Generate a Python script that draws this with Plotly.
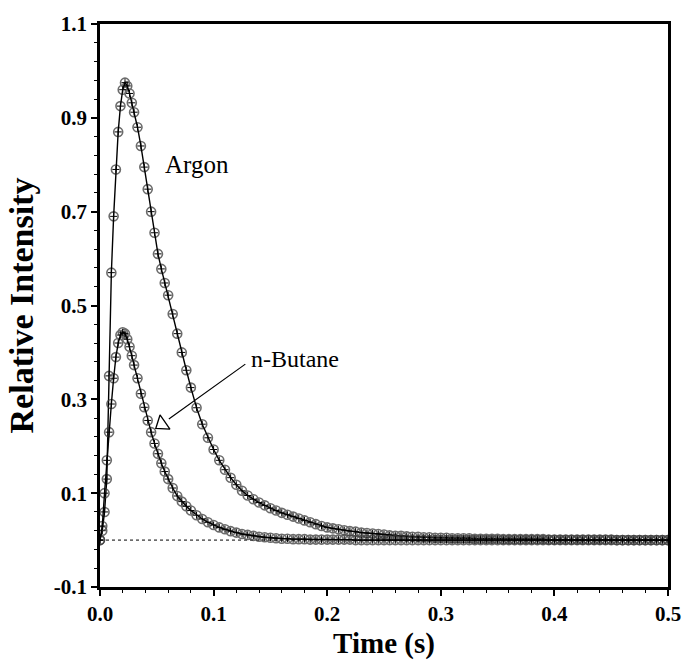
import plotly.graph_objects as go

# ---- data ----
time_s = [
    0.000, 0.002, 0.004, 0.006, 0.008, 0.010, 0.012, 0.014, 0.016, 0.018,
    0.020, 0.022, 0.024, 0.026, 0.028, 0.030, 0.033, 0.036, 0.039, 0.042,
    0.045, 0.048, 0.051, 0.054, 0.057, 0.060, 0.064, 0.068, 0.072, 0.076,
    0.080, 0.085, 0.090, 0.095,
    0.100, 0.105, 0.110, 0.115, 0.120, 0.125, 0.130, 0.135, 0.140, 0.145,
    0.150, 0.155, 0.160, 0.165, 0.170, 0.175, 0.180, 0.185, 0.190, 0.195,
    0.200, 0.205, 0.210, 0.215, 0.220, 0.225, 0.230, 0.235, 0.240, 0.245,
    0.250, 0.255, 0.260, 0.265, 0.270, 0.275, 0.280, 0.285, 0.290, 0.295,
    0.300, 0.305, 0.310, 0.315, 0.320, 0.325, 0.330, 0.335, 0.340, 0.345,
    0.350, 0.355, 0.360, 0.365, 0.370, 0.375, 0.380, 0.385, 0.390, 0.395,
    0.400, 0.405, 0.410, 0.415, 0.420, 0.425, 0.430, 0.435, 0.440, 0.445,
    0.450, 0.455, 0.460, 0.465, 0.470, 0.475, 0.480, 0.485, 0.490, 0.495,
    0.500,
]

argon = [
    0.000, 0.020, 0.060, 0.130, 0.350, 0.570, 0.690, 0.790, 0.870, 0.925,
    0.960, 0.975, 0.968, 0.952, 0.932, 0.912, 0.880, 0.840, 0.795, 0.748,
    0.700, 0.655, 0.610, 0.578, 0.548, 0.522, 0.482, 0.440, 0.400, 0.362,
    0.325, 0.282, 0.247, 0.218,
    0.193, 0.170, 0.150, 0.133, 0.118, 0.105, 0.095, 0.087, 0.080, 0.074,
    0.068, 0.063, 0.058, 0.054, 0.050, 0.046, 0.042, 0.038, 0.034, 0.030,
    0.027, 0.025, 0.023, 0.021, 0.019, 0.018, 0.016, 0.015, 0.014, 0.013,
    0.012, 0.010, 0.009, 0.009, 0.008, 0.007, 0.007, 0.006, 0.006, 0.005,
    0.005, 0.005, 0.004, 0.004, 0.004, 0.004, 0.003, 0.003, 0.003, 0.003,
    0.003, 0.002, 0.002, 0.002, 0.002, 0.002, 0.002, 0.002, 0.002, 0.001,
    0.001, 0.001, 0.001, 0.001, 0.001, 0.001, 0.001, 0.001, 0.001, 0.001,
    0.001, 0.000, 0.000, 0.000, 0.000, 0.000, 0.000, 0.000, 0.000, 0.000,
    0.000,
]

butane = [
    0.000, 0.030, 0.100, 0.170, 0.230, 0.290, 0.345, 0.390, 0.420, 0.437,
    0.443, 0.440, 0.428, 0.412, 0.393, 0.373, 0.345, 0.312, 0.283, 0.255,
    0.230, 0.206, 0.184, 0.164, 0.146, 0.130, 0.111, 0.094, 0.082, 0.072,
    0.063, 0.053, 0.045, 0.038,
    0.032, 0.027, 0.023, 0.019, 0.016, 0.013, 0.011, 0.009, 0.007, 0.006,
    0.005, 0.004, 0.003, 0.003, 0.002, 0.002, 0.002, 0.001, 0.001, 0.001,
    0.001, 0.001, 0.001, 0.001, 0.001, 0.000, 0.000, 0.000, 0.000, 0.000,
    0.000, 0.000, 0.000, 0.000, 0.000, 0.000, 0.000, 0.000, 0.000, 0.000,
    0.000, 0.000, 0.000, 0.000, 0.000, 0.000, 0.000, 0.000, 0.000, 0.000,
    0.000, 0.000, 0.000, 0.000, 0.000, 0.000, 0.000, 0.000, 0.000, 0.000,
    0.000, 0.000, 0.000, 0.000, 0.000, 0.000, 0.000, 0.000, 0.000, 0.000,
    0.000, 0.000, 0.000, 0.000, 0.000, 0.000, 0.000, 0.000, 0.000, 0.000,
    0.000,
]

assert len(time_s) == len(argon) == len(butane)

x_ticks = [0.0, 0.1, 0.2, 0.3, 0.4, 0.5]
y_ticks = [-0.1, 0.1, 0.3, 0.5, 0.7, 0.9, 1.1]

SERIF = "Liberation Serif, Times New Roman, serif"

fig = go.Figure()

for series in (argon, butane):
    # measured points: open circles forming the grey/dark band
    fig.add_trace(go.Scatter(
        x=time_s, y=series, mode="markers",
        marker=dict(symbol="circle-open", size=9, color="#3a3a3a",
                    line=dict(width=1.6, color="#3a3a3a")),
        opacity=0.75,
        showlegend=False, hoverinfo="skip"))
    # model curve: solid line with small crosses
    fig.add_trace(go.Scatter(
        x=time_s, y=series, mode="lines+markers",
        line=dict(color="black", width=1.4),
        marker=dict(symbol="cross-thin-open", size=5,
                    line=dict(width=1, color="black")),
        showlegend=False, hoverinfo="skip"))

# zero baseline (dotted)
fig.add_hline(y=0, line=dict(color="black", width=1, dash="dot"), layer="below")

# labels
fig.add_annotation(x=0.085, y=0.80, text="Argon", showarrow=False,
                   font=dict(family=SERIF, size=25, color="black"),
                   xanchor="center", yanchor="middle")
fig.add_annotation(x=0.172, y=0.385, text="n-Butane", showarrow=False,
                   font=dict(family=SERIF, size=24, color="black"),
                   xanchor="center", yanchor="middle")
# arrow shaft
fig.add_annotation(x=0.0606, y=0.258, ax=78, ay=-56, text="",
                   showarrow=True, arrowhead=0, arrowwidth=1.2,
                   arrowcolor="black", standoff=0, startstandoff=0)
# open triangular arrow head
fig.add_trace(go.Scatter(
    x=[0.0545], y=[0.247], mode="markers",
    marker=dict(symbol="triangle-up", size=15, angle=235, color="white",
                line=dict(width=1.3, color="black")),
    showlegend=False, hoverinfo="skip"))

axis_common = dict(
    showgrid=False, zeroline=False, showline=True, linecolor="black",
    linewidth=2.5, mirror=True, ticks="outside", ticklen=6, tickwidth=1.5,
    tickcolor="black",
    tickfont=dict(family=SERIF, size=21, color="black"),
)

fig.update_xaxes(
    range=[0, 0.5], tickvals=x_ticks,
    ticktext=[f"<b>{v:.1f}</b>" for v in x_ticks],
    minor=dict(dtick=0.02, ticks="outside", ticklen=3, tickwidth=1,
               tickcolor="black", tick0=0),
    title=dict(text="<b>Time (s)</b>", standoff=8,
               font=dict(family=SERIF, size=29, color="black")),
    **axis_common)
fig.update_yaxes(
    range=[-0.1, 1.1], tickvals=y_ticks,
    ticktext=[f"<b>{v:.1f}</b>" for v in y_ticks],
    minor=dict(dtick=0.04, ticks="outside", ticklen=3, tickwidth=1,
               tickcolor="black", tick0=-0.1),
    title=dict(text="<b>Relative Intensity</b>", standoff=10,
               font=dict(family=SERIF, size=34, color="black")),
    **axis_common)

fig.update_layout(
    width=693, height=666,
    margin=dict(l=100, r=15, t=17, b=78),
    paper_bgcolor="white", plot_bgcolor="white",
    showlegend=False,
)

fig.write_html("out.html")
